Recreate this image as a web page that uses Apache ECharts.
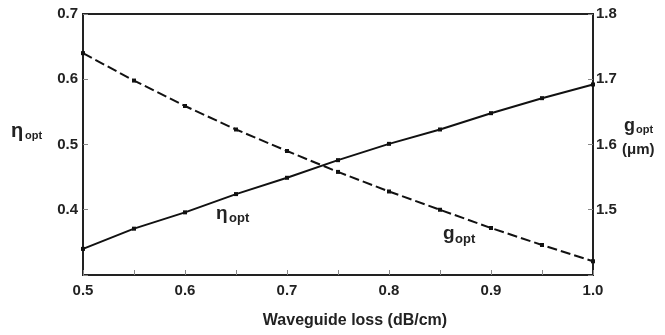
<!DOCTYPE html>
<html>
<head>
<meta charset="utf-8">
<script src="https://cdn.jsdelivr.net/npm/echarts@6/dist/echarts.min.js"></script>
<style>html,body{margin:0;padding:0;background:#fff}#c{width:665px;height:335px}</style>
</head>
<body>
<div id="c"></div>
<script>
var loss = [0.5, 0.55, 0.6, 0.65, 0.7, 0.75, 0.8, 0.85, 0.9, 0.95, 1.0];
var etaOpt = [0.340, 0.371, 0.396, 0.424, 0.449, 0.476, 0.501, 0.523, 0.548, 0.571, 0.592];
var gOpt = [1.740, 1.698, 1.659, 1.623, 1.590, 1.558, 1.528, 1.500, 1.472, 1.446, 1.421];
var xTitle = 'Waveguide loss (dB/cm)';

var FONT = '"Liberation Sans", Arial, sans-serif';
var chart = echarts.init(document.getElementById('c'), null, {renderer: 'canvas'});
function pairs(xs, ys) { return xs.map(function (x, i) { return [x, ys[i]]; }); }

function txt(x, y, s, size) {
  return {type: 'text', left: x, top: y, style: {text: s, font: 'bold ' + size + 'px ' + FONT, fill: '#222'}};
}

chart.setOption({
  animation: false,
  backgroundColor: '#fff',
  grid: {left: 83, right: 72, top: 14, bottom: 60, show: true, borderColor: '#222', borderWidth: 2, backgroundColor: 'transparent'},
  xAxis: {
    type: 'value', min: 0.5, max: 1.0, interval: 0.1,
    name: xTitle, nameLocation: 'middle', nameGap: 38,
    nameTextStyle: {fontFamily: FONT, fontWeight: 'bold', fontSize: 16, color: '#222', padding: [0, 0, 0, 34]},
    axisLine: {show: true, lineStyle: {color: '#222', width: 2}},
    axisTick: {show: true, inside: true, length: 5, lineStyle: {color: '#888', width: 1}},
    minorTick: {show: true, splitNumber: 2, length: 5, lineStyle: {color: '#888', width: 1}},
    splitLine: {show: false},
    axisLabel: {fontFamily: FONT, fontWeight: 'bold', fontSize: 15, color: '#222', margin: 8,
      formatter: function (v) { return v.toFixed(1); }}
  },
  yAxis: [{
    type: 'value', min: 0.3, max: 0.7, interval: 0.1, position: 'left',
    axisLine: {show: true, lineStyle: {color: '#222', width: 2}},
    axisTick: {show: true, inside: true, length: 5, lineStyle: {color: '#888', width: 1}},
    splitLine: {show: false},
    axisLabel: {fontFamily: FONT, fontWeight: 'bold', fontSize: 15, color: '#222', margin: 5,
      formatter: function (v) { return Math.abs(v - 0.3) < 1e-6 ? '' : v.toFixed(1); }}
  }, {
    type: 'value', min: 1.4, max: 1.8, interval: 0.1, position: 'right',
    axisLine: {show: true, lineStyle: {color: '#222', width: 2}},
    axisTick: {show: true, inside: true, length: 5, lineStyle: {color: '#888', width: 1}},
    splitLine: {show: false},
    axisLabel: {fontFamily: FONT, fontWeight: 'bold', fontSize: 15, color: '#222', margin: 3,
      formatter: function (v) { return Math.abs(v - 1.4) < 1e-6 ? '' : v.toFixed(1); }}
  }],
  series: [{
    type: 'line', yAxisIndex: 0, data: pairs(loss, etaOpt),
    symbol: 'rect', symbolSize: 4, showSymbol: true,
    itemStyle: {color: '#111'},
    lineStyle: {color: '#111', width: 2}
  }, {
    type: 'line', yAxisIndex: 1, data: pairs(loss, gOpt),
    symbol: 'rect', symbolSize: 4, showSymbol: true,
    itemStyle: {color: '#111'},
    lineStyle: {color: '#111', width: 2, type: [10, 4]}
  }],
  graphic: [
    txt(11, 121, 'η', 20), txt(25, 130, 'opt', 11),
    txt(624, 117, 'g', 18), txt(636, 124, 'opt', 11),
    txt(622, 142, '(μm)', 15),
    txt(216, 204, 'η', 19), txt(229, 212, 'opt', 13),
    txt(443, 224, 'g', 19), txt(455, 233, 'opt', 13)
  ]
});
</script>
</body>
</html>
